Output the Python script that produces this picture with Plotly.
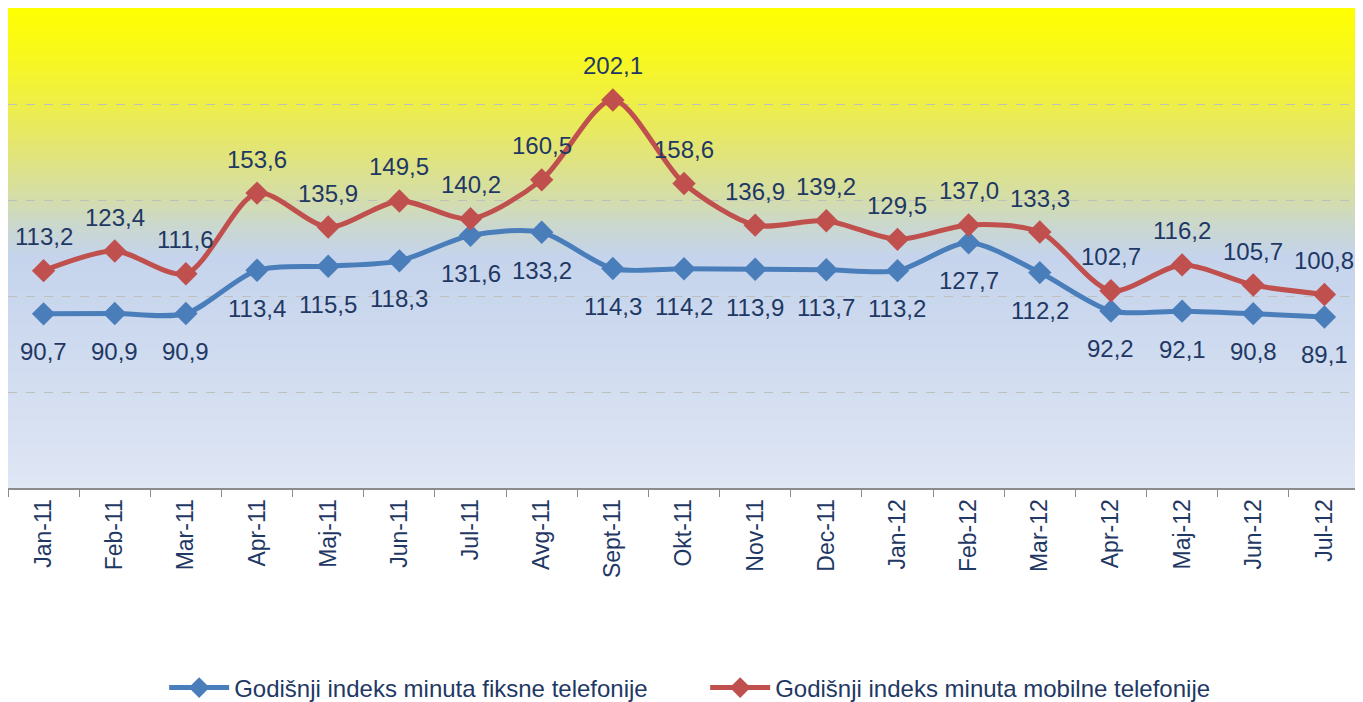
import plotly.graph_objects as go

months = ["Jan-11", "Feb-11", "Mar-11", "Apr-11", "Maj-11", "Jun-11", "Jul-11", "Avg-11",
          "Sept-11", "Okt-11", "Nov-11", "Dec-11", "Jan-12", "Feb-12", "Mar-12", "Apr-12",
          "Maj-12", "Jun-12", "Jul-12"]
fiksna = [90.7, 90.9, 90.9, 113.4, 115.5, 118.3, 131.6, 133.2, 114.3, 114.2, 113.9, 113.7,
          113.2, 127.7, 112.2, 92.2, 92.1, 90.8, 89.1]
mobilna = [113.2, 123.4, 111.6, 153.6, 135.9, 149.5, 140.2, 160.5, 202.1, 158.6, 136.9, 139.2,
           129.5, 137.0, 133.3, 102.7, 116.2, 105.7, 100.8]
name_fix = "Godišnji indeks minuta fiksne telefonije"
name_mob = "Godišnji indeks minuta mobilne telefonije"

navy = "#1F3864"
FONT = "Liberation Sans, Arial"
blue = "#4A7EBB"
red = "#C0504D"

fig = go.Figure()
fig.add_trace(go.Scatter(
    x=months, y=fiksna, name=name_fix, mode="lines+markers",
    line=dict(color=blue, width=5, shape="spline", smoothing=0.8),
    marker=dict(symbol="diamond", size=18, color=blue),
))
fig.add_trace(go.Scatter(
    x=months, y=mobilna, name=name_mob, mode="lines+markers",
    line=dict(color=red, width=5, shape="spline", smoothing=0.8),
    marker=dict(symbol="diamond", size=18, color=red),
))

annotations = []
for m, v in zip(months, fiksna):
    annotations.append(dict(x=m, y=v, xref="x", yref="y", text=f"{v:.1f}".replace(".", ","),
                            showarrow=False, yshift=-38,
                            font=dict(family=FONT, size=24, color=navy)))
for m, v in zip(months, mobilna):
    annotations.append(dict(x=m, y=v, xref="x", yref="y", text=f"{v:.1f}".replace(".", ","),
                            showarrow=False, yshift=34,
                            font=dict(family=FONT, size=24, color=navy)))

# gradient background
stops = [(0.0, (255, 255, 0)), (0.1, (248, 248, 30)), (0.2, (238, 238, 72)),
         (0.3, (226, 229, 118)), (0.4, (212, 221, 170)), (0.46, (202, 215, 208)),
         (0.52, (197, 212, 236)), (0.65, (203, 216, 238)), (1.0, (223, 230, 244))]

def col(t):
    for (a, ca), (b, cb) in zip(stops[:-1], stops[1:]):
        if a <= t <= b:
            f = (t - a) / (b - a)
            c = [round(ca[i] + (cb[i] - ca[i]) * f) for i in range(3)]
            return f"rgb({c[0]},{c[1]},{c[2]})"
    return "rgb(223,230,244)"

n = 160
shapes = []
for i in range(n):
    t0 = i / n
    t1 = (i + 1) / n
    shapes.append(dict(type="rect", xref="paper", yref="paper", x0=0, x1=1,
                       y0=1 - t1, y1=min(1, 1 - t0 + 0.002), line=dict(width=0),
                       fillcolor=col((t0 + t1) / 2), layer="below"))

# page body has an 8px margin, so the figure is sized to fit inside it
fig.update_layout(
    width=1355, height=694,
    margin=dict(l=0, r=3, t=0, b=214, autoexpand=False),
    paper_bgcolor="white", plot_bgcolor="rgba(0,0,0,0)",
    shapes=shapes, annotations=annotations,
    showlegend=True,
    legend=dict(orientation="h", x=0.1155, xanchor="left", y=-0.4167, yanchor="middle",
                font=dict(family=FONT, size=24, color=navy),
                itemwidth=60, tracegroupgap=0, entrywidth=466, entrywidthmode="pixels"),
    font=dict(family=FONT, color=navy),
)
fig.update_xaxes(
    tickangle=-90, tickfont=dict(size=23, color=navy), automargin=False,
    showline=True, linecolor="#8C8C8C", linewidth=2,
    ticks="outside", tickson="boundaries", ticklen=7, tickcolor="#8C8C8C",
    showgrid=False, range=[-0.5, 18.5],
)
fig.update_yaxes(
    range=[0, 250], dtick=50, showticklabels=False, showgrid=True, automargin=False,
    gridcolor="#BFBFBF", griddash="dash", gridwidth=1, zeroline=False,
)
fig.write_html("out.html")
